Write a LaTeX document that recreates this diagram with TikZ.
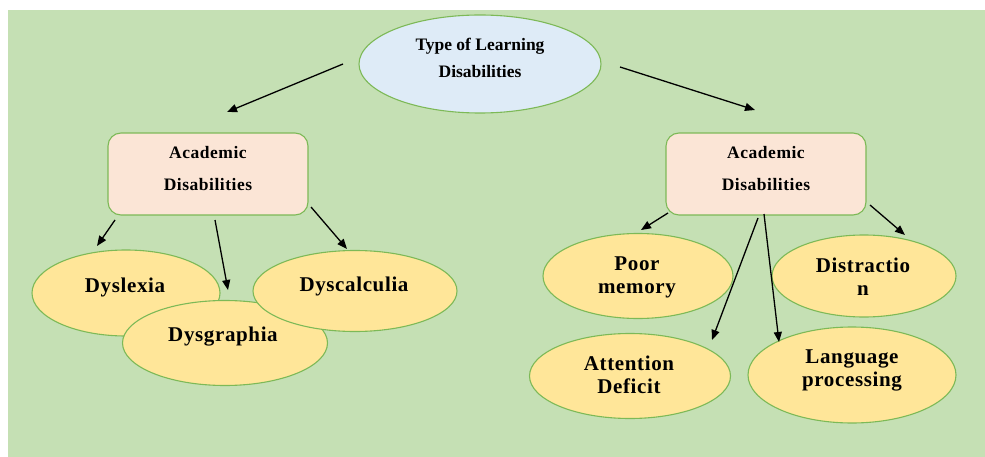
\documentclass[tikz,border=0pt]{standalone}
\usepackage{fontspec}
\setmainfont{Liberation Serif}
\newfontfamily\spacedserif[LetterSpace=3]{Liberation Serif}
\usetikzlibrary{shapes.geometric,arrows.meta}
\definecolor{bggreen}{HTML}{C5E0B4}
\definecolor{edgegreen}{HTML}{7DB957}
\definecolor{topblue}{HTML}{DEEBF7}
\definecolor{boxpeach}{HTML}{FBE5D6}
\definecolor{ovalyellow}{HTML}{FFE699}
\tikzset{
  oval/.style={ellipse, draw=edgegreen, line width=1.1pt, inner sep=0pt},
  topoval/.style={oval, fill=topblue, minimum width=242pt, minimum height=98pt},
  catbox/.style={rectangle, rounded corners=13pt, draw=edgegreen, line width=1.1pt, fill=boxpeach, minimum width=200pt, minimum height=82pt, inner sep=0pt},
  leaf/.style={oval, fill=ovalyellow},
  smalltxt/.style={inner sep=0pt, align=center, font=\bfseries\fontsize{17.5}{27}\selectfont},
  boxtxt/.style={inner sep=0pt, align=center, font=\spacedserif\bfseries\fontsize{17.5}{32}\selectfont},
  leaftxt/.style={inner sep=0pt, align=center, font=\spacedserif\bfseries\fontsize{21}{23}\selectfont},
  arr/.style={-{Triangle[length=10pt,width=8pt]}, line width=1.3pt, black}
}
\begin{document}
\begin{tikzpicture}[x=1pt,y=-1pt]
\useasboundingbox (0,0) rectangle (985,457);
\fill[white] (0,0) rectangle (985,457);
\fill[bggreen] (8,10) rectangle (985,457);

% top
\node[topoval] (top) at (480,64) {};
\node[smalltxt] (toptxt) at (480,58) {Type of Learning\\Disabilities};

% category boxes
\node[catbox] (lb) at (208,174) {};
\node[boxtxt] (lbtxt) at (208,169) {Academic\\Disabilities};
\node[catbox] (rb) at (766,174) {};
\node[boxtxt] (rbtxt) at (766,169) {Academic\\Disabilities};

% left leaves
\node[leaf, minimum width=188pt, minimum height=86pt] (dyslexia) at (126,293) {};
\node[leaftxt] (dyslexiatxt) at (125,287) {Dyslexia};
\node[leaf, minimum width=205pt, minimum height=85pt] (dysgraphia) at (225,343) {};
\node[leaftxt] (dysgraphiatxt) at (223,337) {Dysgraphia};
\node[leaf, minimum width=204pt, minimum height=81pt] (dyscalculia) at (355,291) {};
\node[leaftxt] (dyscalculiatxt) at (354,286) {Dyscalculia};

% right leaves
\node[leaf, minimum width=190pt, minimum height=85pt] (poor) at (638,276) {};
\node[leaftxt] (poortxt) at (637,277) {Poor\\memory};
\node[leaf, minimum width=184pt, minimum height=82pt] (distraction) at (864,276) {};
\node[leaftxt] (distractiontxt) at (863,277) {Distractio\\n};
\node[leaf, minimum width=201pt, minimum height=85pt] (attention) at (630,376) {};
\node[leaftxt] (attentiontxt) at (629,375) {Attention\\Deficit};
\node[leaf, minimum width=208pt, minimum height=96pt] (language) at (852,375) {};
\node[leaftxt] (languagetxt) at (852,370) {Language\\processing};

% connectors
\draw[arr] ([shift={(-137,0)}]top.center) -- ([shift={(19,-62)}]lb.center);
\draw[arr] ([shift={(140,3)}]top.center) -- ([shift={(-11,-64)}]rb.center);
\draw[arr] ([shift={(-93,46)}]lb.center) -- ([shift={(-29,-47)}]dyslexia.center);
\draw[arr] ([shift={(7,46)}]lb.center) -- ([shift={(3,-53)}]dysgraphia.center);
\draw[arr] ([shift={(103,33)}]lb.center) -- ([shift={(-8,-42)}]dyscalculia.center);
\draw[arr] ([shift={(-98,39)}]rb.center) -- ([shift={(3,-46)}]poor.center);
\draw[arr] ([shift={(-8,44)}]rb.center) -- ([shift={(82,-36)}]attention.center);
\draw[arr] ([shift={(-2,40)}]rb.center) -- ([shift={(-73,-33)}]language.center);
\draw[arr] ([shift={(104,31)}]rb.center) -- ([shift={(41,-41)}]distraction.center);
\end{tikzpicture}
\end{document}
